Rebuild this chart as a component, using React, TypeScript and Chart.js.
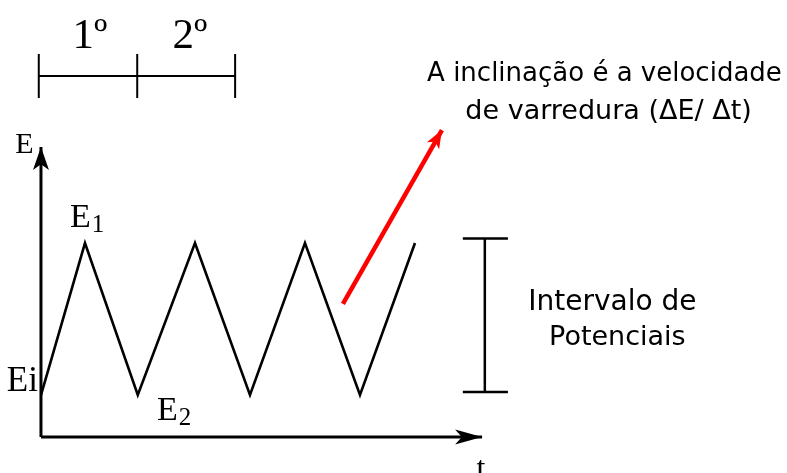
import React, { useEffect, useRef } from "react";
import { Chart, registerables } from "chart.js";

Chart.register(...registerables);

// Triangular potential wave (t in arbitrary time units, E in normalised potential units)
const waveT = [0, 0.8, 1.76, 2.8, 3.8, 4.8, 5.8, 6.8];
const waveE = [0, 1, 0, 1, 0, 1, 0, 1];

// Axes (origin and arrow tips)
const axisOriginT = 0;
const axisOriginE = -0.276;
const yAxisTipE = 1.632;
const xAxisTipT = 8.02;

// Cycle bracket on top (1º, 2º)
const bracketT = [-0.04, 1.75, 3.53];
const bracketE = 2.099;
const bracketTickE = [1.954, 2.243];
const cycleLabels = ["1º", "2º"];
const cycleLabelT = [0.89, 2.71];
const cycleLabelE = 2.36;

// Potential interval bar
const intervalT = 8.07;
const intervalCapT = [7.67, 8.49];
const intervalE = [0.02, 1.03];

// Red slope arrow
const slopeArrowT = [5.49, 7.29];
const slopeArrowE = [0.599, 1.743];

// Texts
const noteLines = ["A inclinação é a velocidade", "de varredura (ΔE/ Δt)"];
const noteT = [10.245, 10.32];
const noteE = [2.11, 1.865];
const intervalLines = ["Intervalo de", "Potenciais"];
const intervalTextT = [10.39, 10.48];
const intervalTextE = [0.605, 0.375];

const X_MIN = -0.745;
const X_MAX = 13.564;
const Y_MIN = -0.513;
const Y_MAX = 2.599;

type Lbl = {
  text: string;
  sub?: string;
  t: number;
  e: number;
  font: string;
  subFont?: string;
  align: CanvasTextAlign;
  color?: string;
};

const SERIF = '"Liberation Serif", "Times New Roman", serif';
const SANS = '"DejaVu Sans", sans-serif';

const labels: Lbl[] = [
  { text: cycleLabels[0], t: cycleLabelT[0], e: cycleLabelE, font: `43px ${SERIF}`, align: "center" },
  { text: cycleLabels[1], t: cycleLabelT[1], e: cycleLabelE, font: `43px ${SERIF}`, align: "center" },
  { text: "E", t: -0.3, e: 1.645, font: `30px ${SERIF}`, align: "center" },
  { text: "E", sub: "1", t: 0.527, e: 1.164, font: `34px ${SERIF}`, subFont: `25px ${SERIF}`, align: "left" },
  { text: "Ei", t: -0.055, e: 0.086, font: `35px ${SERIF}`, align: "right" },
  { text: "E", sub: "2", t: 2.11, e: -0.105, font: `34px ${SERIF}`, subFont: `25px ${SERIF}`, align: "left" },
  { text: "t", t: 8.0, e: -0.49, font: `32px ${SERIF}`, align: "center" },
  { text: noteLines[0], t: noteT[0], e: noteE[0], font: `26px ${SANS}`, align: "center" },
  { text: noteLines[1], t: noteT[1], e: noteE[1], font: `27px ${SANS}`, align: "center" },
  { text: intervalLines[0], t: intervalTextT[0], e: intervalTextE[0], font: `28px ${SANS}`, align: "center" },
  { text: intervalLines[1], t: intervalTextT[1], e: intervalTextE[1], font: `27px ${SANS}`, align: "center" },
];

const arrowPlugin = {
  id: "arrowHeads",
  afterDatasetsDraw(chart: any) {
    const ctx = chart.ctx;
    chart.data.datasets.forEach((ds: any, i: number) => {
      if (!ds.arrow) return;
      const meta = chart.getDatasetMeta(i);
      const pts = meta.data;
      const a = pts[pts.length - 2];
      const b = pts[pts.length - 1];
      const ang = Math.atan2(b.y - a.y, b.x - a.x);
      const len = ds.arrow.len;
      const half = ds.arrow.half;
      ctx.save();
      ctx.fillStyle = ds.borderColor;
      ctx.beginPath();
      ctx.moveTo(b.x, b.y);
      ctx.lineTo(
        b.x - len * Math.cos(ang) + half * Math.sin(ang),
        b.y - len * Math.sin(ang) - half * Math.cos(ang)
      );
      ctx.lineTo(
        b.x - len * 0.75 * Math.cos(ang),
        b.y - len * 0.75 * Math.sin(ang)
      );
      ctx.lineTo(
        b.x - len * Math.cos(ang) - half * Math.sin(ang),
        b.y - len * Math.sin(ang) + half * Math.cos(ang)
      );
      ctx.closePath();
      ctx.fill();
      ctx.restore();
    });
  },
};

const labelPlugin = {
  id: "diagramLabels",
  afterDraw(chart: any) {
    const ctx = chart.ctx;
    const xs = chart.scales.x;
    const ys = chart.scales.y;
    ctx.save();
    ctx.textBaseline = "middle";
    labels.forEach((l) => {
      const px = xs.getPixelForValue(l.t);
      const py = ys.getPixelForValue(l.e);
      ctx.fillStyle = l.color || "#000";
      ctx.font = l.font;
      ctx.textAlign = l.align;
      ctx.fillText(l.text, px, py);
      if (l.sub) {
        const w = ctx.measureText(l.text).width;
        const sx = l.align === "left" ? px + w : px + w / 2;
        ctx.font = l.subFont || l.font;
        ctx.textAlign = "left";
        ctx.fillText(l.sub, sx + 1, py + 7);
      }
    });
    ctx.restore();
  },
};

function pts(ts: (number | null)[], es: (number | null)[]) {
  return ts.map((t, i) => ({ x: t as number, y: es[i] as any }));
}

export default function App() {
  const ref = useRef<HTMLCanvasElement | null>(null);

  useEffect(() => {
    if (!ref.current) return;
    const base = { pointRadius: 0, fill: false, tension: 0, spanGaps: false, borderCapStyle: "butt" as const };
    const chart = new Chart(ref.current, {
      type: "line",
      data: {
        datasets: [
          {
            ...base,
            label: "wave",
            data: pts(waveT, waveE),
            borderColor: "#000",
            borderWidth: 2.6,
          },
          {
            ...base,
            label: "yAxis",
            data: pts([axisOriginT, axisOriginT], [axisOriginE, yAxisTipE]),
            borderColor: "#000",
            borderWidth: 3,
            arrow: { len: 23, half: 8 },
          } as any,
          {
            ...base,
            label: "xAxis",
            data: pts([axisOriginT, xAxisTipT], [axisOriginE, axisOriginE]),
            borderColor: "#000",
            borderWidth: 3,
            arrow: { len: 27, half: 7.5 },
          } as any,
          {
            ...base,
            label: "bracket",
            data: [
              { x: bracketT[0], y: bracketE },
              { x: bracketT[2], y: bracketE },
              { x: bracketT[2], y: null },
              { x: bracketT[0], y: bracketTickE[0] },
              { x: bracketT[0], y: bracketTickE[1] },
              { x: bracketT[0], y: null },
              { x: bracketT[1], y: bracketTickE[0] },
              { x: bracketT[1], y: bracketTickE[1] },
              { x: bracketT[1], y: null },
              { x: bracketT[2], y: bracketTickE[0] },
              { x: bracketT[2], y: bracketTickE[1] },
            ] as any,
            borderColor: "#000",
            borderWidth: 2,
          },
          {
            ...base,
            label: "interval",
            data: [
              { x: intervalT, y: intervalE[0] },
              { x: intervalT, y: intervalE[1] },
              { x: intervalT, y: null },
              { x: intervalCapT[0], y: intervalE[0] },
              { x: intervalCapT[1], y: intervalE[0] },
              { x: intervalCapT[1], y: null },
              { x: intervalCapT[0], y: intervalE[1] },
              { x: intervalCapT[1], y: intervalE[1] },
            ] as any,
            borderColor: "#000",
            borderWidth: 2.5,
          },
          {
            ...base,
            label: "slope",
            data: pts(slopeArrowT, slopeArrowE),
            borderColor: "#ff0000",
            borderWidth: 4.5,
            arrow: { len: 18, half: 7 },
          } as any,
        ],
      },
      options: {
        animation: false,
        responsive: false,
        events: [],
        layout: { padding: 0 },
        parsing: false as any,
        normalized: true,
        plugins: { legend: { display: false }, tooltip: { enabled: false } },
        scales: {
          x: { type: "linear", min: X_MIN, max: X_MAX, display: false },
          y: { type: "linear", min: Y_MIN, max: Y_MAX, display: false },
        },
      },
      plugins: [arrowPlugin, labelPlugin],
    });
    return () => chart.destroy();
  }, []);

  return (
    <div style={{ position: "fixed", left: 0, top: 0, width: 787, height: 473, background: "#fff" }}>
      <canvas ref={ref} width={787} height={473} style={{ display: "block" }} />
    </div>
  );
}
